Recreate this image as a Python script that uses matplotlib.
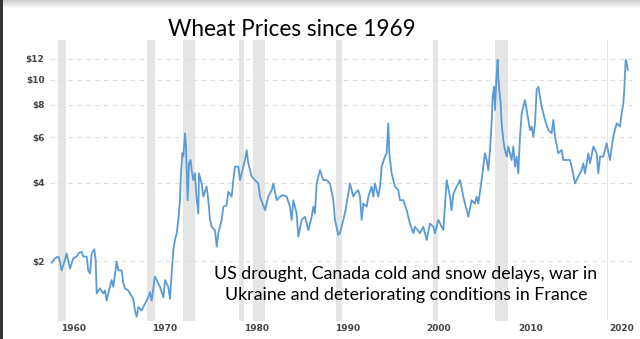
import matplotlib
matplotlib.use("Agg")
import matplotlib.pyplot as plt
import matplotlib.patches as patches

# ---------------------------------------------------------
# DATA (axis years as labelled)
# ---------------------------------------------------------
years = [
    1957.61, 1957.97, 1958.34, 1958.52, 1958.70, 1959.07, 1959.25, 1959.62, 1959.98, 1960.35,
    1960.53, 1960.89, 1961.08, 1961.44, 1961.62, 1961.81, 1961.99, 1962.28, 1962.43, 1962.54,
    1962.90, 1963.27, 1963.45, 1963.63, 1963.98, 1964.18, 1964.36, 1964.73, 1964.91, 1965.27,
    1965.46, 1965.64, 1966.00, 1966.19, 1966.55, 1966.73, 1966.92, 1967.10, 1967.46, 1967.83,
    1968.19, 1968.38, 1968.56, 1968.92, 1969.11, 1969.47, 1969.84, 1970.02, 1970.38, 1970.57,
    1970.75, 1970.93, 1971.11, 1971.30, 1971.48, 1971.66, 1971.77, 1971.92, 1972.03, 1972.21,
    1972.32, 1972.50, 1972.65, 1972.83, 1972.94, 1973.12, 1973.30, 1973.49, 1973.67, 1973.74,
    1974.03, 1974.22, 1974.58, 1974.76, 1974.95, 1975.13, 1975.49, 1975.68, 1975.86, 1976.22,
    1976.41, 1976.77, 1976.95, 1977.32, 1977.50, 1977.68, 1978.05, 1978.23, 1978.60, 1978.78,
    1978.96, 1979.14, 1979.51, 1979.87, 1980.24, 1980.42, 1980.97, 1981.33, 1981.70, 1981.88,
    1982.25, 1982.61, 1982.97, 1983.34, 1983.70, 1983.89, 1984.07, 1984.43, 1984.62, 1984.98,
    1985.35, 1985.71, 1986.08, 1986.26, 1986.44, 1986.62, 1986.99, 1987.35, 1987.72, 1988.08,
    1988.45, 1988.63, 1988.99, 1989.18, 1989.54, 1989.72, 1990.09, 1990.27, 1990.64, 1990.82,
    1991.18, 1991.37, 1991.55, 1991.73, 1992.10, 1992.28, 1992.64, 1992.83, 1993.01, 1993.37,
    1993.56, 1993.74, 1994.10, 1994.29, 1994.47, 1994.58, 1994.83, 1995.20, 1995.56, 1995.75,
    1996.11, 1996.48, 1996.84, 1997.21, 1997.39, 1997.94, 1998.30, 1998.67, 1999.03, 1999.40,
    1999.58, 1999.94, 2000.49, 2000.86, 2001.22, 2001.40, 2001.59, 2002.13, 2002.32, 2002.68,
    2002.86, 2003.23, 2003.59, 2003.96, 2004.14, 2004.32, 2004.69, 2005.05, 2005.24, 2005.42,
    2005.60, 2005.78, 2005.89, 2006.04, 2006.15, 2006.33, 2006.44, 2006.51, 2006.62, 2006.77,
    2006.88, 2007.06, 2007.24, 2007.43, 2007.61, 2007.97, 2008.16, 2008.34, 2008.52, 2008.70,
    2008.89, 2009.07, 2009.43, 2009.62, 2009.98, 2010.16, 2010.35, 2010.53, 2010.71, 2010.89,
    2011.26, 2011.62, 2011.99, 2012.35, 2012.54, 2012.72, 2013.08, 2013.45, 2013.63, 2014.00,
    2014.36, 2014.54, 2014.91, 2015.27, 2015.64, 2015.82, 2016.00, 2016.37, 2016.55, 2016.92,
    2017.28, 2017.46, 2017.65, 2018.01, 2018.37, 2018.74, 2019.10, 2019.47, 2019.83, 2020.02,
    2020.20, 2020.31, 2020.38, 2020.46, 2020.57, 2020.68,
]
prices = [
    1.97, 2.05, 2.08, 1.99, 1.84, 2.02, 2.14, 1.87, 2.05, 2.08,
    2.14, 2.17, 2.08, 2.08, 1.84, 1.79, 2.14, 2.22, 2.02, 1.50,
    1.57, 1.50, 1.54, 1.41, 1.59, 1.69, 1.59, 1.99, 1.84, 1.84,
    1.64, 1.57, 1.54, 1.50, 1.43, 1.29, 1.22, 1.33, 1.29, 1.37,
    1.45, 1.52, 1.41, 1.74, 1.69, 1.59, 1.45, 1.69, 1.59, 1.43,
    1.79, 2.20, 2.41, 2.56, 2.88, 3.43, 4.35, 5.20, 5.05, 6.21,
    5.52, 3.43, 4.76, 4.90, 4.48, 4.10, 4.35, 3.43, 3.05, 4.35,
    3.98, 3.54, 3.87, 3.43, 2.88, 2.71, 2.63, 2.27, 2.56, 2.88,
    3.24, 3.28, 3.70, 3.54, 4.10, 4.62, 4.62, 4.10, 4.62, 4.90,
    5.35, 4.76, 4.23, 4.10, 3.98, 3.54, 3.14, 3.54, 3.75, 3.98,
    3.43, 3.54, 3.59, 3.54, 3.24, 2.88, 3.43, 3.05, 2.48, 2.88,
    2.96, 2.63, 2.96, 3.24, 3.05, 3.98, 4.48, 4.10, 4.10, 3.98,
    3.43, 2.88, 2.52, 2.56, 2.88, 3.05, 3.64, 3.98, 3.54, 3.64,
    3.75, 3.54, 2.88, 3.33, 3.24, 3.54, 3.87, 3.54, 3.98, 3.54,
    3.87, 4.62, 5.05, 5.20, 6.78, 5.20, 4.35, 3.87, 3.75, 3.43,
    3.43, 3.14, 2.79, 2.56, 2.71, 2.56, 2.71, 2.41, 2.79, 2.71,
    2.56, 2.88, 2.63, 4.10, 3.54, 3.14, 3.64, 3.98, 4.10, 3.54,
    3.33, 2.96, 3.43, 3.33, 3.54, 3.33, 4.10, 5.20, 4.90, 4.48,
    5.35, 6.78, 8.59, 9.39, 7.64, 10.57, 11.90, 10.20, 9.12, 8.10,
    6.78, 5.85, 5.35, 5.05, 5.52, 4.90, 5.52, 4.62, 5.05, 4.35,
    6.03, 7.41, 8.34, 7.64, 6.39, 6.59, 6.03, 6.78, 9.12, 9.39,
    7.87, 6.99, 6.39, 6.21, 6.99, 6.03, 5.20, 5.35, 4.90, 4.90,
    4.90, 4.62, 3.98, 4.23, 4.48, 4.76, 4.35, 5.20, 4.76, 5.52,
    5.20, 4.35, 5.05, 5.05, 5.68, 4.90, 6.03, 6.78, 6.59, 7.41,
    8.10, 9.12, 10.57, 11.90, 11.60, 10.90,
]

# shaded recession bands (start, end), axis years
band_start = [1958.3, 1968.05, 1972.0, 1978.1, 1979.65, 1988.7, 1999.35, 2006.15, 2018.4]
band_end = [1959.2, 1968.9, 1973.3, 1978.7, 1980.95, 1989.4, 1999.9, 2007.6, 2018.55]

y_ticks = [2, 4, 6, 8, 10, 12]
y_labels = ["$2", "$4", "$6", "$8", "$10", "$12"]
x_ticks = [1960, 1970, 1980, 1990, 2000, 2010, 2020]

title = "Wheat Prices since 1969"
note = "US drought, Canada cold and snow delays, war in\nUkraine and deteriorating conditions in France"

# ---------------------------------------------------------
# PLOT
# ---------------------------------------------------------
W, H = 640, 339
fig = plt.figure(figsize=(W / 100, H / 100), dpi=100)
fig.patch.set_facecolor("white")

ax_l, ax_r, ax_t, ax_b = 50, 632, 40, 321
ax = fig.add_axes([ax_l / W, 1 - ax_b / H, (ax_r - ax_l) / W, (ax_b - ax_t) / H])

for s, e in zip(band_start, band_end):
    ax.axvspan(s, e, color="#e5e5e5", lw=0, zorder=0)

ax.plot(years, prices, color="#5b9bd5", lw=1.3, zorder=3)

ax.set_yscale("log")
ax.set_ylim(1.175, 14.2)
ax.set_xlim(1957.43, 2021.15)

ax.yaxis.set_minor_locator(matplotlib.ticker.NullLocator())
ax.set_yticks(y_ticks)
ax.set_yticklabels(y_labels)
ax.set_xticks(x_ticks)
ax.set_xticklabels([str(x) for x in x_ticks])
ax.tick_params(axis="both", length=0, labelsize=6.5, labelcolor="#444444")
ax.tick_params(axis="y", pad=4)
ax.tick_params(axis="x", pad=2)
for lab in ax.get_xticklabels() + ax.get_yticklabels():
    lab.set_fontweight("bold")

ax.grid(axis="y", color="#dddddd", lw=0.8, ls=(0, (4, 4)), zorder=1)
ax.grid(axis="x", visible=False)
for sp in ax.spines.values():
    sp.set_visible(False)

# title and annotation
fig.text(292 / W, 1 - 29 / H, title, ha="center", va="center",
         fontsize=16.3, family="Lato", color="black")
fig.text(406 / W, 1 - 284.5 / H, note, ha="center", va="center",
         fontsize=12.8, family="Lato", color="black", linespacing=1.4)

# screenshot edges: gray shadow at top, dark strip at left
for i in range(8):
    fig.patches.append(patches.Rectangle((0, 1 - (i + 1) / H), 1, 1 / H,
                                         transform=fig.transFigure,
                                         color="#b0b0b0", alpha=0.6 * (1 - i / 8), lw=0))
fig.patches.append(patches.Rectangle((0, 0), 3 / W, 1, transform=fig.transFigure,
                                     color="#333333", lw=0))

fig.savefig("out.png", dpi=100)
